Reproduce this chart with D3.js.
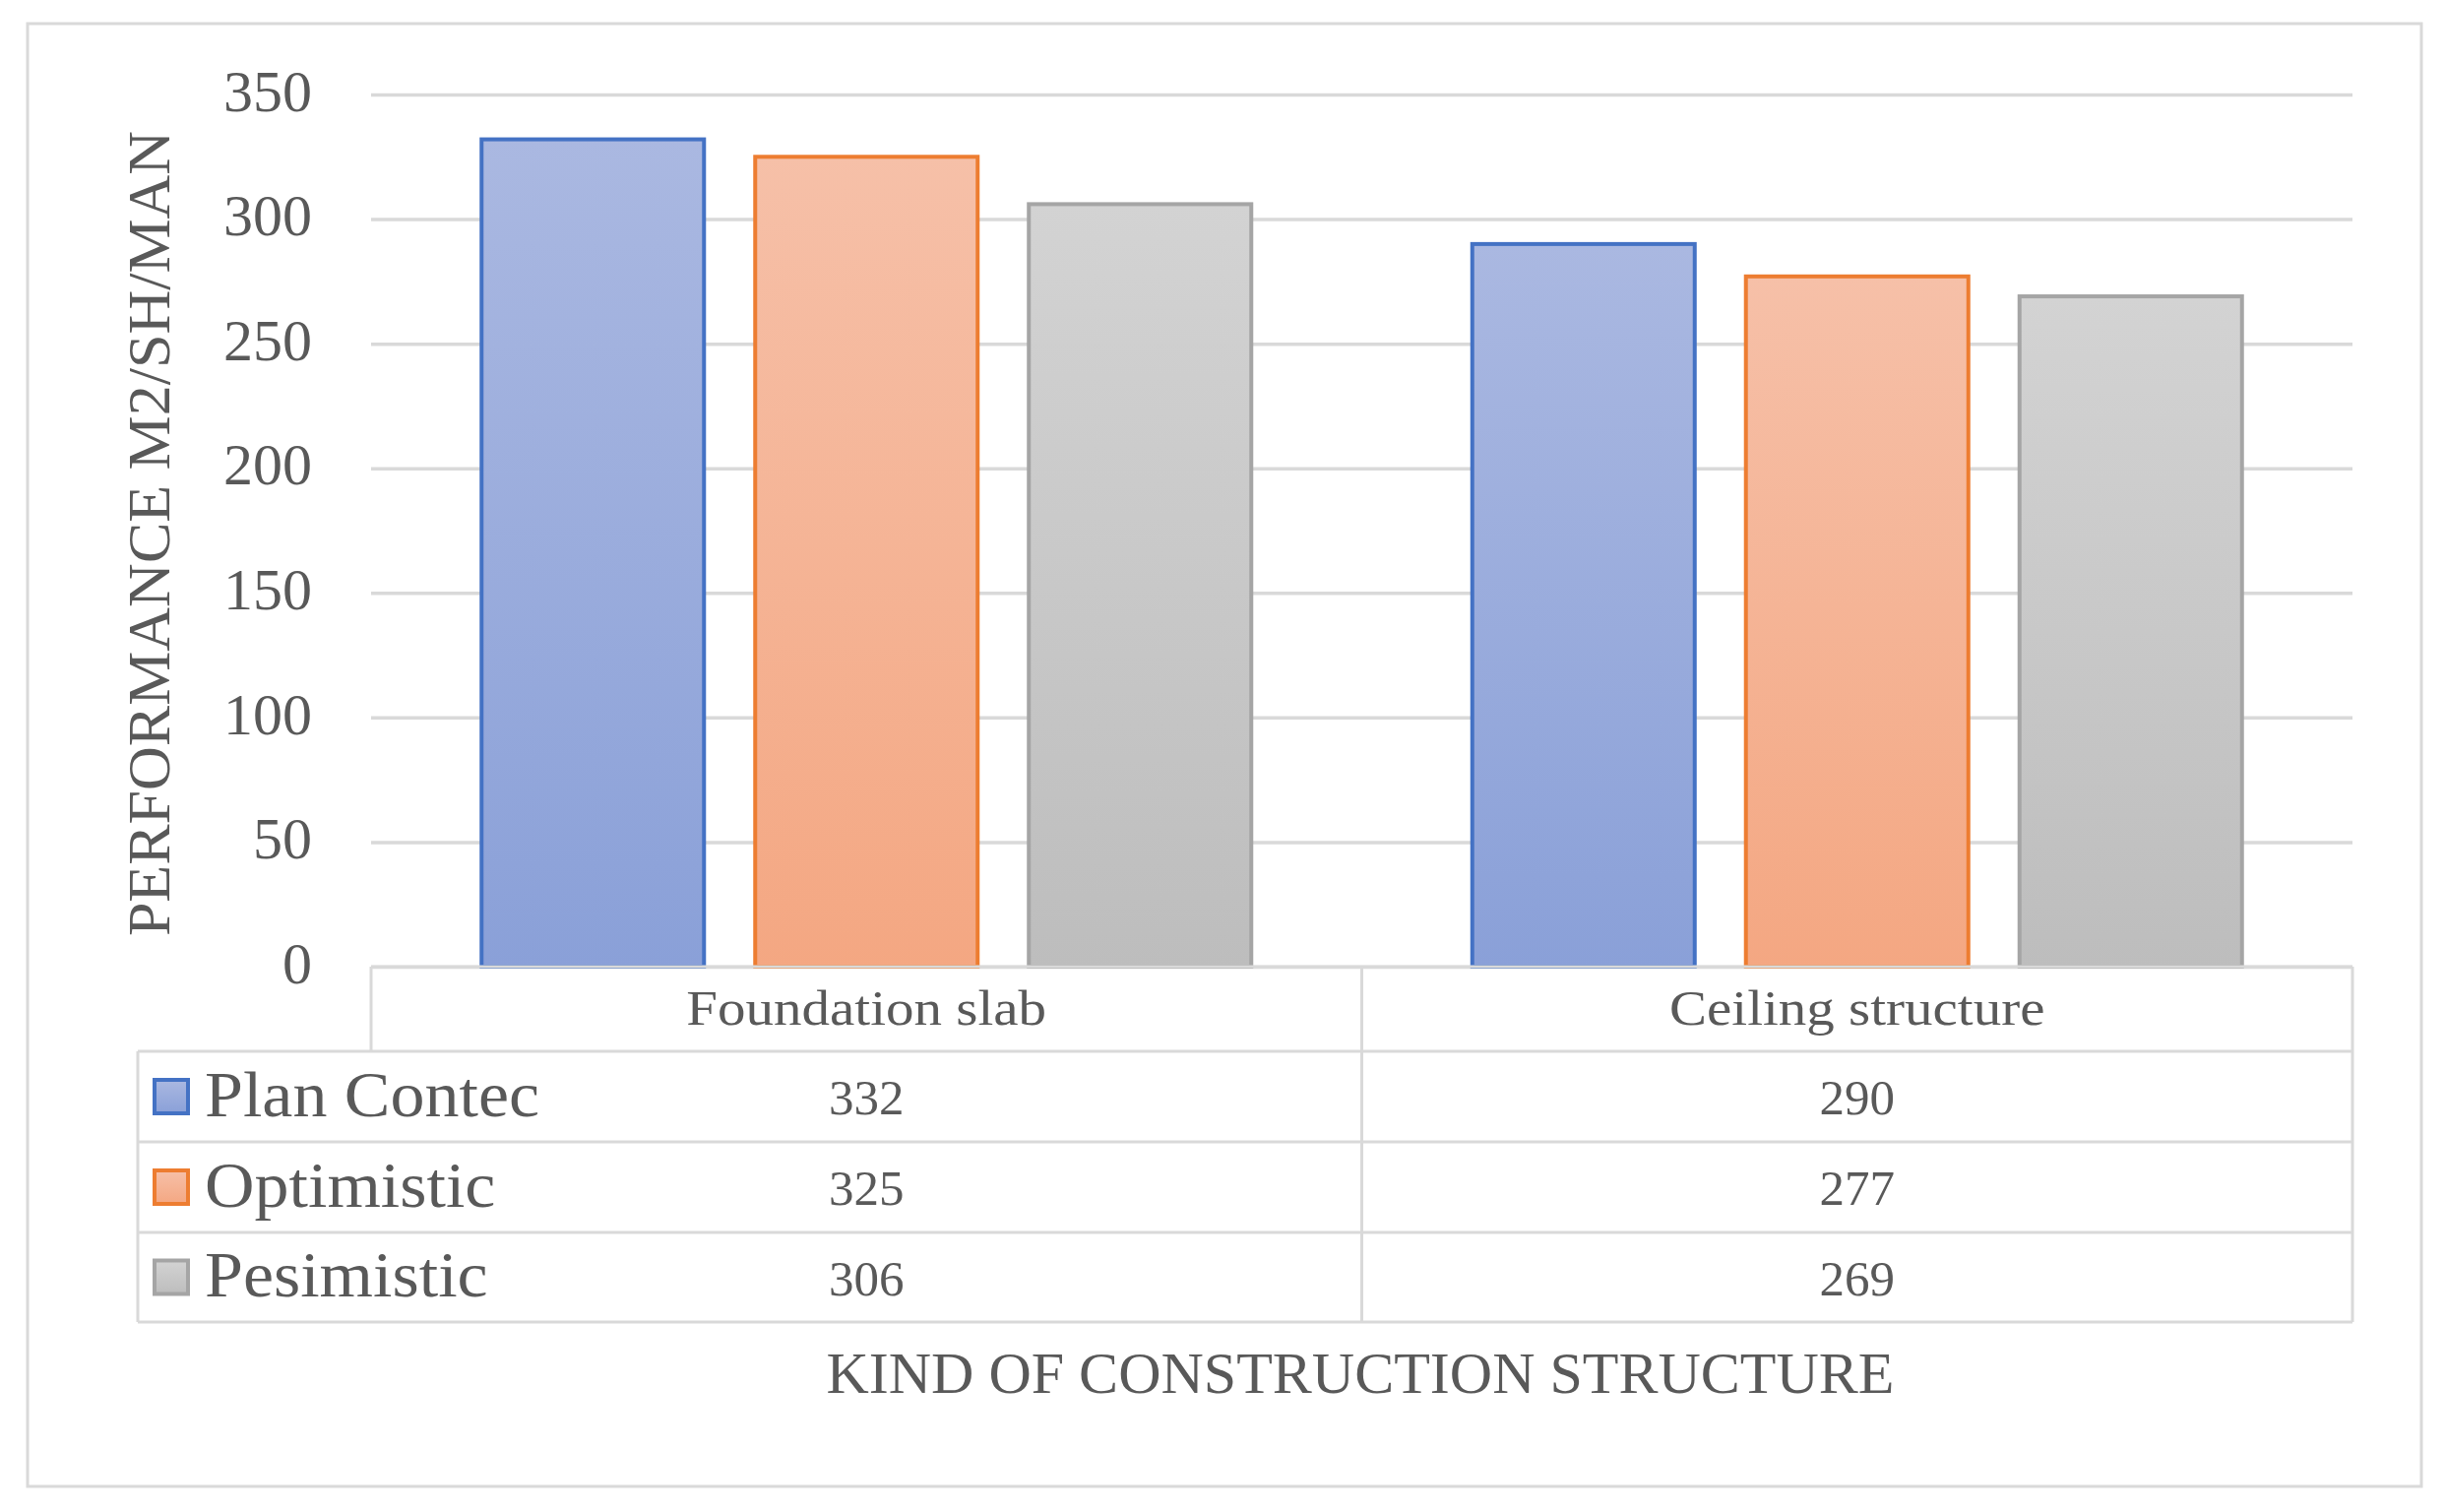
<!DOCTYPE html>
<html><head><meta charset="utf-8">
<script src="https://cdn.jsdelivr.net/npm/d3@7"></script>
<style>body{margin:0;background:#fff}</style></head>
<body><script>
const categories = ["Foundation slab", "Ceiling structure"];
const seriesNames = ["Plan Contec", "Optimistic", "Pesimistic"];
const planContec = [332, 290];
const optimistic = [325, 277];
const pesimistic = [306, 269];
const yTicks = [0, 50, 100, 150, 200, 250, 300, 350];
const yTitle = "PERFORMANCE M2/SH/MAN";
const xTitle = "KIND OF CONSTRUCTION STRUCTURE";

(function () {
const seriesValues = [planContec, optimistic, pesimistic];
const strokeColors = ["#4472C4", "#ED7D31", "#A5A5A5"];
const gradTop = ["#AAB8E1", "#F6C0A8", "#D3D3D3"];
const gradBot = ["#8AA0D8", "#F4A782", "#BDBDBD"];
const FONT = "'Liberation Serif', 'Times New Roman', serif";
const TXT = "#595959";
const LINE = "#D9D9D9";

const W = 2484, H = 1536;
const svg = d3.select("body").append("svg").attr("width", W).attr("height", H)
  .style("font-family", FONT);

function stretch(sel, k) {
  sel.each(function () {
    const w = this.getComputedTextLength();
    d3.select(this).attr("textLength", w * k).attr("lengthAdjust", "spacingAndGlyphs");
  });
}

const defs = svg.append("defs");
seriesNames.forEach((s, i) => {
  const g = defs.append("linearGradient").attr("id", "g" + i)
    .attr("x1", 0).attr("y1", 0).attr("x2", 0).attr("y2", 1);
  g.append("stop").attr("offset", "0%").attr("stop-color", gradTop[i]);
  g.append("stop").attr("offset", "100%").attr("stop-color", gradBot[i]);
});

// outer border
svg.append("rect").attr("x", 28).attr("y", 24).attr("width", 2432).attr("height", 1486)
  .attr("fill", "#fff").attr("stroke", LINE).attr("stroke-width", 3);

const pLeft = 377, pRight = 2390, pTop = 96, pBottom = 982;
const y = d3.scaleLinear().domain([0, 350]).range([pBottom, pTop]);
const x0 = d3.scaleBand().domain(categories).range([pLeft, pRight]).padding(0);
const groupW = 782;
const x1 = d3.scaleBand().domain(seriesNames).range([0, groupW]).paddingInner(0.187).paddingOuter(0);
const groupOff = (x0.bandwidth() - groupW) / 2;

// y axis with gridlines
const ax = svg.append("g").attr("transform", `translate(${pLeft},0)`)
  .call(d3.axisLeft(y).tickValues(yTicks).tickSize(-(pRight - pLeft)).tickPadding(60));
ax.select(".domain").remove();
ax.selectAll(".tick line").attr("stroke", LINE).attr("stroke-width", 3.5);
ax.selectAll(".tick text").attr("fill", TXT).attr("font-size", 60)
  .attr("font-family", FONT).attr("dy", "0.27em");

// bars
seriesNames.forEach((s, i) => {
  svg.append("g").selectAll("rect").data(categories.map((c, j) => ({c, v: seriesValues[i][j]})))
    .join("rect")
    .attr("x", d => x0(d.c) + groupOff + x1(s))
    .attr("width", x1.bandwidth())
    .attr("y", d => y(d.v))
    .attr("height", d => y(0) - y(d.v))
    .attr("fill", `url(#g${i})`)
    .attr("stroke", strokeColors[i]).attr("stroke-width", 4);
});

// data table
const tableLeft = 140;
const headerBottom = 1068;
const rowEdges = [1068, 1160, 1252, 1343];
const tbl = svg.append("g").attr("stroke", LINE).attr("stroke-width", 3);
tbl.append("line").attr("x1", pLeft).attr("x2", pRight).attr("y1", pBottom).attr("y2", pBottom);
rowEdges.forEach(r => tbl.append("line").attr("x1", tableLeft).attr("x2", pRight).attr("y1", r).attr("y2", r));
tbl.append("line").attr("x1", pLeft).attr("x2", pLeft).attr("y1", pBottom).attr("y2", headerBottom);
tbl.append("line").attr("x1", tableLeft).attr("x2", tableLeft).attr("y1", headerBottom).attr("y2", rowEdges[3]);
categories.forEach(c => {
  const xr = x0(c) + x0.bandwidth();
  tbl.append("line").attr("x1", xr).attr("x2", xr).attr("y1", pBottom).attr("y2", rowEdges[3]);
});

// header labels
const hdr = svg.append("g").selectAll("text").data(categories).join("text")
  .attr("x", c => x0(c) + x0.bandwidth() / 2).attr("y", 1041)
  .attr("text-anchor", "middle").attr("font-size", 50).attr("fill", TXT).text(c => c);
stretch(hdr, 1.14);

// rows
seriesNames.forEach((s, i) => {
  const cy = (rowEdges[i] + rowEdges[i + 1]) / 2;
  svg.append("rect").attr("x", 157).attr("y", cy - 17).attr("width", 34).attr("height", 34)
    .attr("fill", `url(#g${i})`).attr("stroke", strokeColors[i]).attr("stroke-width", 4);
  const lt = svg.append("text").attr("x", 208).attr("y", cy).attr("dy", "0.3em")
    .attr("font-size", 66).attr("fill", TXT).text(s);
  stretch(lt, 1.06);
  categories.forEach((c, j) => {
    svg.append("text").attr("x", x0(c) + x0.bandwidth() / 2).attr("y", cy).attr("dy", "0.36em")
      .attr("text-anchor", "middle").attr("font-size", 51).attr("fill", TXT)
      .text(seriesValues[i][j]);
  });
});

// axis titles
svg.append("text").attr("transform", `translate(172,542) rotate(-90)`)
  .attr("text-anchor", "middle").attr("font-size", 62).attr("fill", TXT).text(yTitle);
svg.append("text").attr("x", 1382).attr("y", 1415)
  .attr("text-anchor", "middle").attr("font-size", 60).attr("fill", TXT).text(xTitle);
})();
</script></body></html>
